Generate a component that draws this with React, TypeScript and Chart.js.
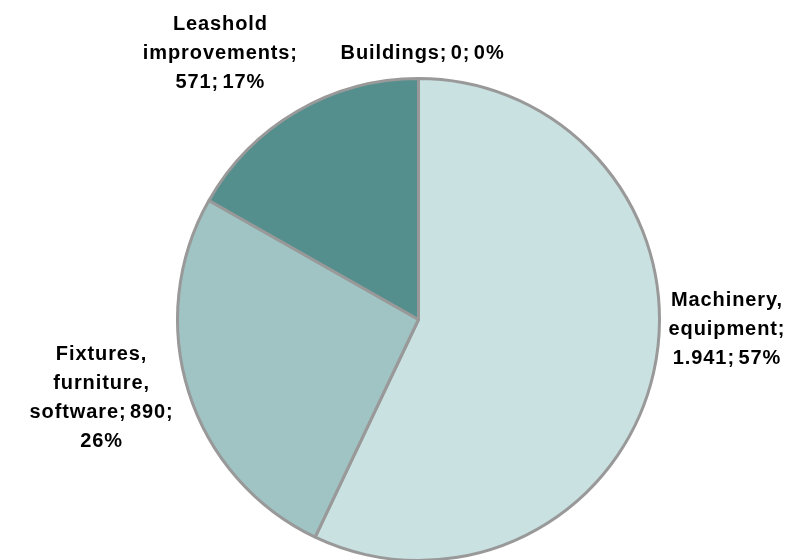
import React, { useEffect, useRef } from "react";
import { Chart, registerables } from "chart.js";

Chart.register(...registerables);

const categories = ["Buildings", "Machinery, equipment", "Fixtures, furniture, software", "Leasehold improvements"];
const values = [0, 1941, 890, 571];
const sliceColors = ["#c9e1e1", "#c9e1e1", "#a0c3c3", "#548f8d"];
const labelLines = [
  ["Buildings; 0; 0%"],
  ["Machinery,", "equipment;", "1.941; 57%"],
  ["Fixtures,", "furniture,", "software; 890;", "26%"],
  ["Leashold", "improvements;", "571; 17%"],
];
// label centre, relative to pie centre, in units of the outer radius
const labelAnchorX = [0.017, 1.28, -1.315, -0.822];
const labelAnchorY = [-1.105, 0.04, 0.325, -1.105];

const labelPlugin = {
  id: "sliceLabels",
  afterDatasetsDraw(chart: any) {
    const meta = chart.getDatasetMeta(0);
    const ctx = chart.ctx as CanvasRenderingContext2D;
    ctx.save();
    ctx.font = "bold 20px 'Liberation Sans', Arial, sans-serif";
    (ctx as any).letterSpacing = "0.9px";
    (ctx as any).wordSpacing = "-3px";
    ctx.fillStyle = "#000000";
    ctx.textAlign = "center";
    ctx.textBaseline = "middle";
    const lh = 29;
    meta.data.forEach((arc: any, i: number) => {
      const r = arc.outerRadius;
      const cx = arc.x + labelAnchorX[i] * r;
      const cy = arc.y + labelAnchorY[i] * r;
      const lines = labelLines[i];
      const start = cy - ((lines.length - 1) * lh) / 2;
      lines.forEach((t, j) => ctx.fillText(t, cx, start + j * lh));
    });
    ctx.restore();
  },
};

export default function App() {
  const ref = useRef<HTMLCanvasElement>(null);
  useEffect(() => {
    if (!ref.current) return;
    const chart = new Chart(ref.current, {
      type: "pie",
      data: {
        labels: categories,
        datasets: [
          {
            data: values,
            backgroundColor: sliceColors,
            borderColor: "#999999",
            borderWidth: 3,
          },
        ],
      },
      options: {
        responsive: false,
        animation: false,
        layout: { padding: { left: 176, right: 142, top: 77, bottom: 80 } },
        plugins: { legend: { display: false }, tooltip: { enabled: false } },
      },
      plugins: [labelPlugin],
    });
    return () => chart.destroy();
  }, []);
  return (
    <div style={{ position: "fixed", left: 0, top: 0, width: 803, height: 560, overflow: "hidden", background: "#fff" }}>
      <canvas ref={ref} width={803} height={642} />
    </div>
  );
}
